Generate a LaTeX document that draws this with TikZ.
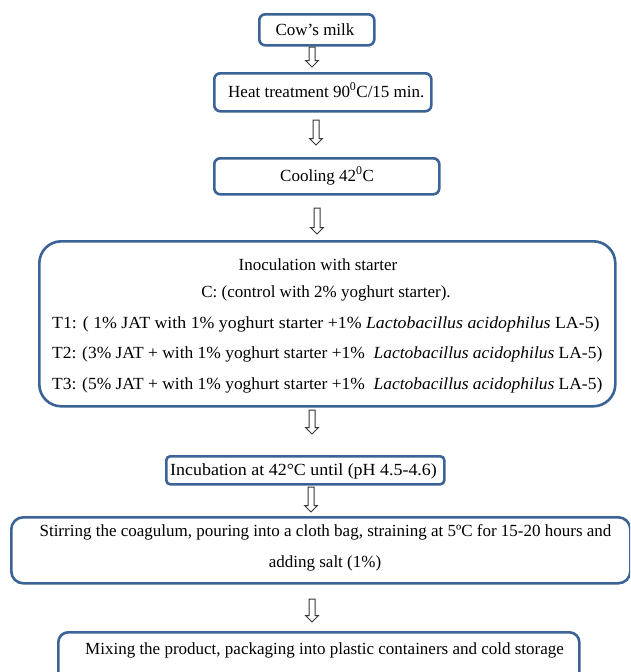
\documentclass[tikz,border=0pt]{standalone}
\usepackage{graphicx}
\usepackage{fontspec}
\setmainfont{Liberation Serif}
\definecolor{boxblue}{RGB}{59,99,150}
\definecolor{arrowgray}{RGB}{55,55,55}
\newcommand\hollowarrow[3]{%
  \draw[arrowline] (#1-3,#2) -- (#1+3,#2) -- (#1+3,#3-6.5) -- (#1+6.5,#3-6.5)
    -- (#1,#3) -- (#1-6.5,#3-6.5) -- (#1-3,#3-6.5) -- cycle;}
\begin{document}
\begin{tikzpicture}[x=1pt,y=-1pt,
  box/.style={draw=boxblue, line width=2.6pt, rounded corners=#1, anchor=north west, inner sep=0pt},
  box/.default=6pt,
  txt/.style={inner sep=0pt, font=\fontsize{17}{20}\selectfont, text=black},
  arrowline/.style={draw=arrowgray, line width=1pt, fill=white, line join=miter}]
\useasboundingbox (0,0) rectangle (630,672);
\fill[white] (0,0) rectangle (630,672);
\clip (0,0) rectangle (630,672);

% boxes
\node[box=6pt, minimum width=115pt, minimum height=31pt] (b1) at (258,13) {};
\node[box=6pt, minimum width=217pt, minimum height=38pt] (b2) at (213,72) {};
\node[box=6pt, minimum width=225pt, minimum height=36pt] (b3) at (213,157) {};
\node[box=22pt, minimum width=576pt, minimum height=165pt] (b4) at (38,240) {};
\node[box=4pt, minimum width=278pt, minimum height=28pt] (b5) at (165,455) {};
\node[box=12pt, minimum width=619pt, minimum height=66pt] (b6) at (10,516) {};
\node[box=10pt, minimum width=521pt, minimum height=70pt] (b7) at (57,631) {};

% texts
\node[txt, anchor=base] (t1) at (315,35) {Cow's milk};
\node[txt, anchor=base west] (t2) at (228,97) {Heat treatment 90\textsuperscript{0}C/15 min.};
\node[txt, anchor=base west] (t3) at (280,181) {Cooling 42\textsuperscript{0}C};
\node[txt, anchor=base] (t4a) at (318,270) {Inoculation with starter};
\node[txt, anchor=base] (t4b) at (326,297) {C: (control with 2\% yoghurt starter).};
\node[txt, anchor=base west] (t4c) at (52,328) {\scalebox{1.048}[1]{T1: ( 1\% JAT with 1\% yoghurt starter +1\% \textit{Lactobacillus acidophilus} LA-5)}};
\node[txt, anchor=base west] (t4d) at (52,358) {\scalebox{1.026}[1]{T2: (3\% JAT + with 1\% yoghurt starter +1\%\ \ \textit{Lactobacillus acidophilus} LA-5)}};
\node[txt, anchor=base west] (t4e) at (52,389) {\scalebox{1.026}[1]{T3: (5\% JAT + with 1\% yoghurt starter +1\%\ \ \textit{Lactobacillus acidophilus} LA-5)}};
\node[txt, anchor=base west] (t5) at (170,475) {\scalebox{1.055}[1]{Incubation at 42°C until (pH 4.5-4.6)}};
\node[txt, anchor=base] (t6a) at (325.5,536) {Stirring the coagulum, pouring into a cloth bag, straining at 5ºC for 15-20 hours and};
\node[txt, anchor=base] (t6b) at (325,567) {adding salt (1\%)};
\node[txt, anchor=base west] (t7) at (85,654) {Mixing the product, packaging into plastic containers and cold storage};

% arrows
\hollowarrow{312}{47}{67}
\hollowarrow{316}{120}{145}
\hollowarrow{317}{208}{234}
\hollowarrow{312}{410}{434}
\hollowarrow{311}{487}{512}
\hollowarrow{312}{599}{622}
\end{tikzpicture}
\end{document}
